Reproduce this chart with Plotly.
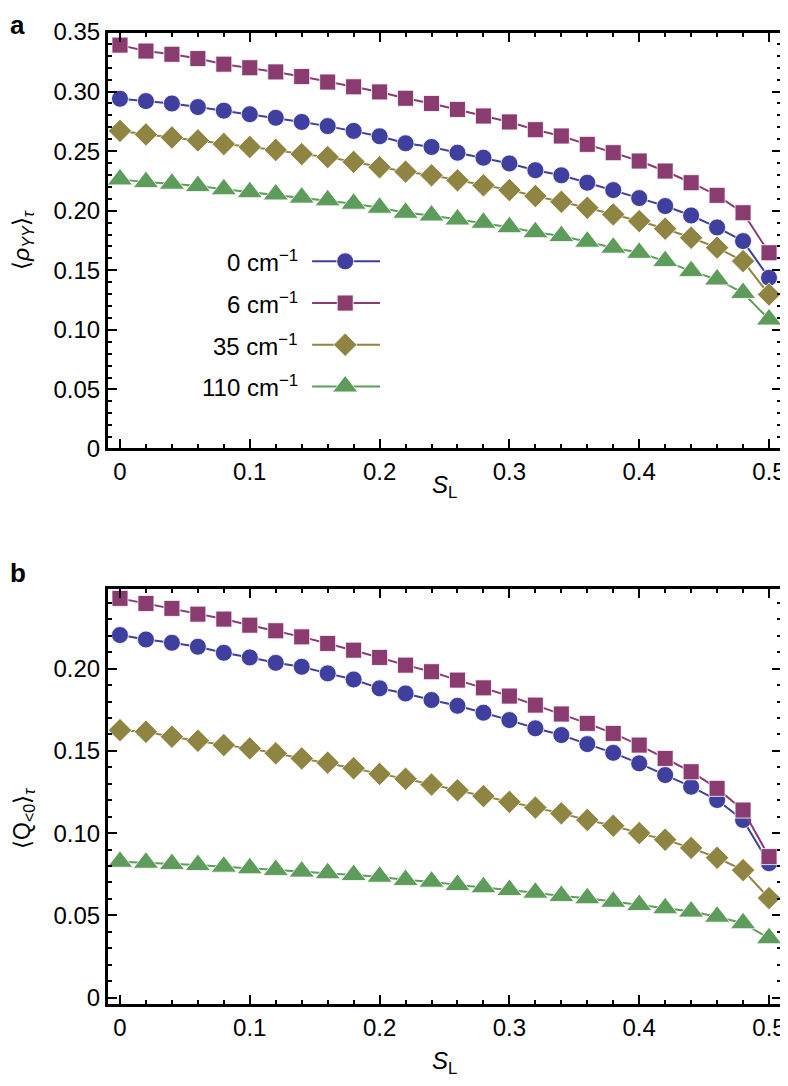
import plotly.graph_objects as go

# ---------------- data ----------------
s_l = [round(0.02 * i, 2) for i in range(26)]

series_names = ["0 cm<sup>−1</sup>", "6 cm<sup>−1</sup>", "35 cm<sup>−1</sup>", "110 cm<sup>−1</sup>"]

rho_0 = [0.294, 0.292, 0.290, 0.287, 0.284, 0.281, 0.278, 0.2745, 0.271, 0.267,
         0.2625, 0.2566, 0.2535, 0.2487, 0.2445, 0.2397, 0.234, 0.2297, 0.2235, 0.2173,
         0.2106, 0.2039, 0.196, 0.186, 0.1745, 0.1437]
rho_6 = [0.339, 0.334, 0.3313, 0.3277, 0.323, 0.320, 0.3165, 0.3126, 0.308, 0.304,
         0.2997, 0.2944, 0.290, 0.285, 0.2795, 0.2745, 0.268, 0.2627, 0.2557, 0.2487,
         0.2417, 0.2333, 0.2235, 0.2129, 0.1983, 0.1647]
rho_35 = [0.267, 0.264, 0.2615, 0.259, 0.256, 0.2535, 0.251, 0.2475, 0.245, 0.241,
          0.2365, 0.2328, 0.2297, 0.2255, 0.2213, 0.2173, 0.2123, 0.2075, 0.2025, 0.1969,
          0.1913, 0.1849, 0.1773, 0.169, 0.1577, 0.1297]
rho_110 = [0.2263, 0.224, 0.2227, 0.2207, 0.218, 0.2156, 0.2137, 0.211, 0.2087, 0.2059,
           0.2025, 0.1983, 0.196, 0.1927, 0.1899, 0.1862, 0.182, 0.1787, 0.174, 0.169,
           0.1647, 0.1577, 0.1493, 0.1423, 0.131, 0.1087]

q_0 = [0.2204, 0.2177, 0.2157, 0.2133, 0.2096, 0.2068, 0.2035, 0.2011, 0.1971, 0.1934,
       0.188, 0.1849, 0.1809, 0.1774, 0.1732, 0.1687, 0.1637, 0.1596, 0.1541, 0.1488,
       0.1424, 0.1353, 0.1282, 0.1201, 0.108, 0.0817]
q_6 = [0.2427, 0.2396, 0.2366, 0.2331, 0.2301, 0.2264, 0.223, 0.2193, 0.2153, 0.2112,
       0.2068, 0.2021, 0.1981, 0.193, 0.1883, 0.1833, 0.1778, 0.1724, 0.1667, 0.1606,
       0.1535, 0.1454, 0.1373, 0.1272, 0.114, 0.0857]
q_35 = [0.1626, 0.1616, 0.1586, 0.1561, 0.1535, 0.1515, 0.1485, 0.1454, 0.1428, 0.1394,
        0.136, 0.133, 0.1295, 0.126, 0.1225, 0.119, 0.1155, 0.112, 0.108, 0.1045,
        0.100, 0.096, 0.091, 0.085, 0.0775, 0.0605]
q_110 = [0.0826, 0.082, 0.0812, 0.0806, 0.0796, 0.0786, 0.0776, 0.0766, 0.0756, 0.0745,
         0.0735, 0.0715, 0.0705, 0.0685, 0.0671, 0.0654, 0.0638, 0.0618, 0.0604, 0.0583,
         0.0563, 0.0543, 0.0523, 0.0492, 0.0452, 0.0361]

x_tickvals = [0, 0.1, 0.2, 0.3, 0.4, 0.5]
x_ticktext = ["0", "0.1", "0.2", "0.3", "0.4", "0.5"]
ya_tickvals = [0, 0.05, 0.10, 0.15, 0.20, 0.25, 0.30, 0.35]
ya_ticktext = ["0", "0.05", "0.10", "0.15", "0.20", "0.25", "0.30", "0.35"]
yb_tickvals = [0, 0.05, 0.10, 0.15, 0.20]
yb_ticktext = ["0", "0.05", "0.10", "0.15", "0.20"]

# legend sample positions (top panel data coordinates)
legend_y = [0.1575, 0.1225, 0.0875, 0.0525]
legend_line_x = [0.148, 0.2003]
legend_marker_x = 0.1735
legend_text_x = 0.139

# ---------------- style ----------------
colors = ["#3E3F9E", "#8A3B6F", "#8E8542", "#5E9C5B"]
symbols = ["circle", "square", "diamond", "triangle-up"]
sizes = [17, 16, 18, 22]
FONT = "Liberation Sans, Arial, Helvetica, sans-serif"
FS = 24
W, H = 780, 1070          # page body adds an 8 px offset
L, R = 99, 6

TOP_PANEL = (24, 441)     # pixel rows of panel a frame (figure coords)
BOT_PANEL = (580, 997)    # pixel rows of panel b frame


def py(px):
    return 1 - px / H


def pxx(px):
    return (px - L) / (W - L - R)


fig = go.Figure()

top_data = [rho_0, rho_6, rho_35, rho_110]
bot_data = [q_0, q_6, q_35, q_110]

for i in range(4):
    for data, xa, ya in [(top_data[i], "x", "y"), (bot_data[i], "x2", "y2")]:
        fig.add_trace(go.Scatter(
            x=s_l, y=data, xaxis=xa, yaxis=ya, mode="lines+markers",
            line=dict(color=colors[i], width=2),
            marker=dict(symbol=symbols[i], size=sizes[i], color=colors[i],
                        line=dict(color="white", width=0.8)),
            showlegend=False, cliponaxis=False, hoverinfo="skip"))

# legend samples (text left, line+marker right)
for i in range(4):
    fig.add_trace(go.Scatter(
        x=legend_line_x, y=[legend_y[i]] * 2, xaxis="x", yaxis="y",
        mode="lines", line=dict(color=colors[i], width=2),
        showlegend=False, cliponaxis=False, hoverinfo="skip"))
    fig.add_trace(go.Scatter(
        x=[legend_marker_x], y=[legend_y[i]], xaxis="x", yaxis="y",
        mode="markers",
        marker=dict(symbol=symbols[i], size=sizes[i], color=colors[i],
                    line=dict(color="white", width=0.8)),
        showlegend=False, cliponaxis=False, hoverinfo="skip"))
    fig.add_annotation(x=legend_text_x, y=legend_y[i], xref="x", yref="y",
                       text=series_names[i], showarrow=False, xanchor="right",
                       yanchor="middle", font=dict(family=FONT, size=FS, color="black"))

axis_common = dict(showline=True, linewidth=2, linecolor="black", mirror="allticks",
                   ticks="inside", ticklen=10, tickwidth=2, tickcolor="black",
                   showgrid=False, zeroline=False, automargin=False,
                   tickfont=dict(family=FONT, size=FS, color="black"))

xaxis_common = dict(axis_common, range=[-0.01, 0.51], tickmode="array",
                    tickvals=x_tickvals, ticktext=x_ticktext,
                    minor=dict(dtick=0.02, tick0=0, ticks="inside", ticklen=5,
                               tickwidth=2, tickcolor="black", showgrid=False))

fig.update_layout(
    width=W, height=H,
    margin=dict(l=L, r=R, t=0, b=0, pad=0),
    paper_bgcolor="white", plot_bgcolor="white",
    showlegend=False,
    font=dict(family=FONT, size=FS, color="black"),
    xaxis=dict(xaxis_common, domain=[0, 1], anchor="y"),
    yaxis=dict(axis_common, domain=[py(TOP_PANEL[1]), py(TOP_PANEL[0])], anchor="x",
               range=[0, 0.35],
               tickmode="array", tickvals=ya_tickvals, ticktext=ya_ticktext,
               minor=dict(dtick=0.01, tick0=0, ticks="inside", ticklen=5,
                          tickwidth=2, tickcolor="black", showgrid=False)),
    xaxis2=dict(xaxis_common, domain=[0, 1], anchor="y2"),
    yaxis2=dict(axis_common, domain=[py(BOT_PANEL[1]), py(BOT_PANEL[0])], anchor="x2",
                range=[-0.0045, 0.249],
                tickmode="array", tickvals=yb_tickvals, ticktext=yb_ticktext,
                minor=dict(dtick=0.01, tick0=0, ticks="inside", ticklen=5,
                           tickwidth=2, tickcolor="black", showgrid=False)),
)

# solid frames around both panels (paper refs, not clipped)
for top, bot in (TOP_PANEL, BOT_PANEL):
    fig.add_shape(type="rect", xref="paper", yref="paper", x0=0, x1=1,
                  y0=py(bot), y1=py(top),
                  line=dict(color="black", width=2), fillcolor="rgba(0,0,0,0)",
                  layer="above")

# axis titles and panel labels
for ypix in (478, 1054):
    fig.add_annotation(x=pxx(436), y=py(ypix), xref="paper", yref="paper",
                       xanchor="center", yanchor="middle",
                       text="<i>S</i><sub>L</sub>", showarrow=False,
                       font=dict(family=FONT, size=FS, color="black"))
fig.add_annotation(x=pxx(15), y=py(232), xref="paper", yref="paper",
                   xanchor="center", yanchor="middle",
                   text="⟨<i>ρ</i><sub><i>YY</i></sub>⟩<sub><i>τ</i></sub>",
                   showarrow=False, textangle=-90,
                   font=dict(family=FONT, size=23, color="black"))
fig.add_annotation(x=pxx(15), y=py(811), xref="paper", yref="paper",
                   xanchor="center", yanchor="middle",
                   text="⟨Q<sub>&lt;0</sub>⟩<sub><i>τ</i></sub>",
                   showarrow=False, textangle=-90,
                   font=dict(family=FONT, size=23, color="black"))
fig.add_annotation(x=pxx(0), y=py(0), xref="paper", yref="paper",
                   text="<b>a</b>", showarrow=False, xanchor="left", yanchor="top",
                   font=dict(family=FONT, size=26, color="black"))
fig.add_annotation(x=pxx(0), y=py(565), xref="paper", yref="paper",
                   text="<b>b</b>", showarrow=False, xanchor="left", yanchor="middle",
                   font=dict(family=FONT, size=26, color="black"))

fig.write_html("out.html")
